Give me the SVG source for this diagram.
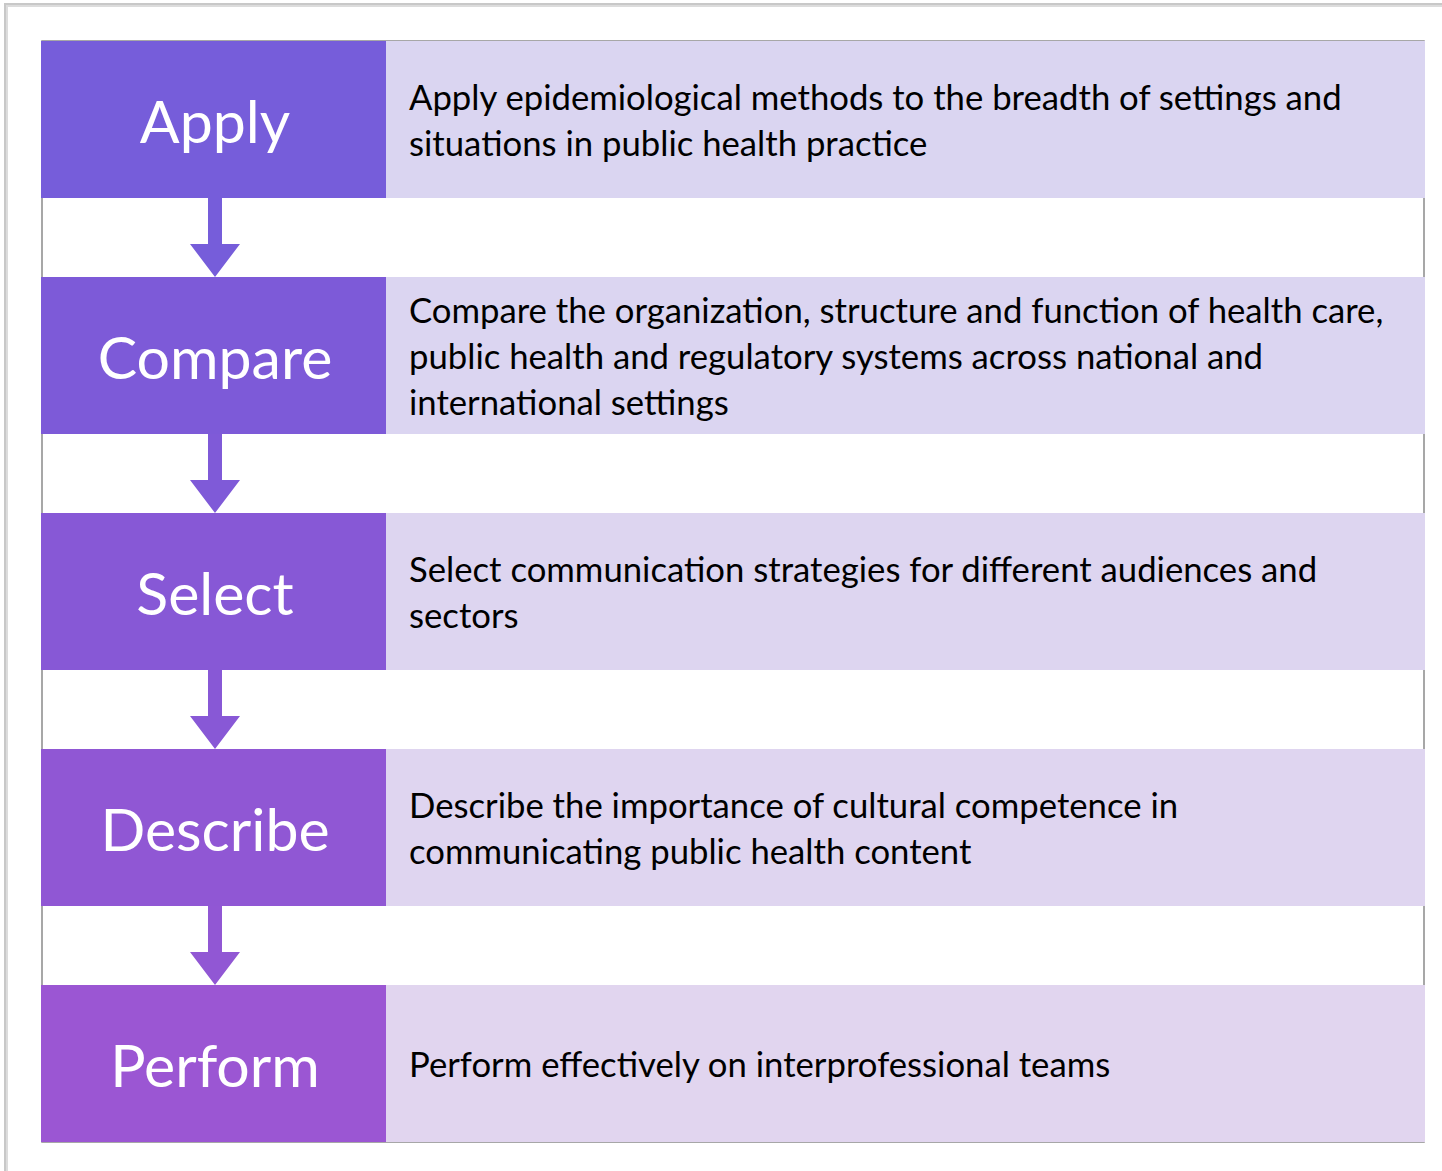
<svg xmlns="http://www.w3.org/2000/svg" width="1442" height="1171" viewBox="0 0 1442 1171">
<style>
.lbl{font-family:Lato,"Open Sans","Liberation Sans",sans-serif;font-size:59px;fill:#fff;text-anchor:middle}
.desc{font-family:Lato,"Open Sans","Liberation Sans",sans-serif;font-size:34.7px;fill:#000}
.arr{stroke:none}
</style>
<rect x="0" y="0" width="1442" height="1171" fill="#fff"/>
<rect x="4" y="3" width="1450" height="1180" fill="#c8c8c8"/>
<rect x="6" y="5" width="1450" height="1180" fill="#dcdcdc"/>
<rect x="8" y="7" width="1450" height="1180" fill="#fff"/>
<rect x="42" y="41" width="1382" height="1101" fill="#fff" stroke="#8a8a8a" stroke-width="1.5"/>
<g id="connectors">
<path class="arr" fill="#765DDA" d="M208,198 H222 V244 H240 L215,277 L190,244 H208 Z"/>
<path class="arr" fill="#7F5AD8" d="M208,434 H222 V480 H240 L215,513 L190,480 H208 Z"/>
<path class="arr" fill="#8858D6" d="M208,670 H222 V716 H240 L215,749 L190,716 H208 Z"/>
<path class="arr" fill="#9157D4" d="M208,906 H222 V952 H240 L215,985 L190,952 H208 Z"/>
</g>
<g id="apply">
<rect x="41" y="41" width="345" height="157" fill="#765DDA"/>
<rect x="386" y="41" width="1039" height="157" fill="#DAD5F1"/>
<text class="lbl" x="215" y="143">Apply</text>
<text class="desc" x="409" y="110">Apply epidemiological methods to the breadth of settings and</text>
<text class="desc" x="409" y="156">situations in public health practice</text>
</g>
<g id="compare">
<rect x="41" y="277" width="345" height="157" fill="#7D5AD8"/>
<rect x="386" y="277" width="1039" height="157" fill="#DBD5F1"/>
<text class="lbl" x="215" y="379">Compare</text>
<text class="desc" x="409" y="323">Compare the organization, structure and function of health care,</text>
<text class="desc" x="409" y="369">public health and regulatory systems across national and</text>
<text class="desc" x="409" y="415">international settings</text>
</g>
<g id="select">
<rect x="41" y="513" width="345" height="157" fill="#8758D6"/>
<rect x="386" y="513" width="1039" height="157" fill="#DDD5F0"/>
<text class="lbl" x="215" y="615">Select</text>
<text class="desc" x="409" y="582">Select communication strategies for different audiences and</text>
<text class="desc" x="409" y="628">sectors</text>
</g>
<g id="describe">
<rect x="41" y="749" width="345" height="157" fill="#9057D4"/>
<rect x="386" y="749" width="1039" height="157" fill="#DFD5F0"/>
<text class="lbl" x="215" y="851">Describe</text>
<text class="desc" x="409" y="818">Describe the importance of cultural competence in</text>
<text class="desc" x="409" y="864">communicating public health content</text>
</g>
<g id="perform">
<rect x="41" y="985" width="345" height="157" fill="#9B56D3"/>
<rect x="386" y="985" width="1039" height="157" fill="#E1D5EF"/>
<text class="lbl" x="215" y="1087">Perform</text>
<text class="desc" x="409" y="1077">Perform effectively on interprofessional teams</text>
</g>
</svg>
